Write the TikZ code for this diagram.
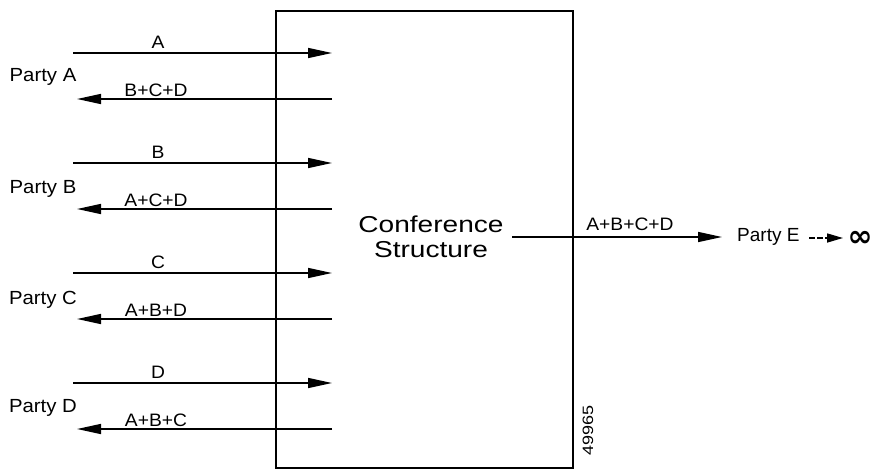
\documentclass[tikz,border=0pt]{standalone}
\usepackage{fontspec}
\setmainfont{Liberation Sans}
\newfontfamily\djv{DejaVu Sans}
\usetikzlibrary{arrows.meta}
\tikzset{
  conn/.style={line width=1.5pt},
  fwd/.style={conn,-{Triangle[length=24pt,width=10pt]}},
  lbl/.style={inner sep=0pt,font=\fontsize{18}{20}\selectfont},
  party/.style={inner sep=0pt,font=\fontsize{19}{21}\selectfont},
}
\newcommand{\wide}[1]{\scalebox{1.07}[1]{#1}}
\begin{document}
\begin{tikzpicture}[x=1pt,y=-1pt]
\useasboundingbox (0,0) rectangle (875,471);
% conference box
\node[draw,line width=2.4pt,minimum width=297pt,minimum height=457pt,inner sep=0pt] (box) at (424.5,239.5) {};
\node[inner sep=0pt,align=center,font=\fontsize{23}{25}\selectfont] (cs) at (431,237) {\scalebox{1.22}[1]{Conference}\\\scalebox{1.22}[1]{Structure}};
% parties
\foreach \p/\fy/\by/\fl/\bl/\py in {A/53/99/A/B+C+D/77, B/163/209/B/A+C+D/189, C/273/319/C/A+B+D/300, D/383/429/D/A+B+C/408}{
  \coordinate (f\p s) at (73,\fy);
  \coordinate (f\p e) at (332,\fy);
  \coordinate (b\p s) at (332,\by);
  \coordinate (b\p e) at (77,\by);
  \draw[fwd] (f\p s) -- (f\p e);
  \draw[fwd] (b\p s) -- (b\p e);
  \node[lbl] (fl\p) at (158,\fy-11) {\wide{\fl}};
  \node[lbl] (bl\p) at (156,\by-9) {\wide{\bl}};
  \node[party] (party\p) at (43,\py) {\wide{Party \p}};
}
% output
\coordinate (outs) at (512,237);
\node[party,anchor=west] (partyE) at (737,237) {Party E};
\coordinate (oute) at (722,237);
\draw[fwd] (outs) -- (oute);
\node[lbl] (abcd) at (630,224) {\wide{A+B+C+D}};
\coordinate (ds) at (809,238);
\coordinate (de) at (843,238);
\draw[conn,dash pattern=on 6pt off 2pt,-{Triangle[length=16pt,width=9pt]}] (ds) -- (de);
\node[inner sep=0pt,font=\djv\bfseries\fontsize{30}{32}\selectfont] (inf) at (860,239) {∞};
\node[inner sep=0pt,rotate=90,font=\fontsize{15}{17}\selectfont] (num) at (588,430) {\scalebox{1.2}[1]{49965}};
\end{tikzpicture}
\end{document}
